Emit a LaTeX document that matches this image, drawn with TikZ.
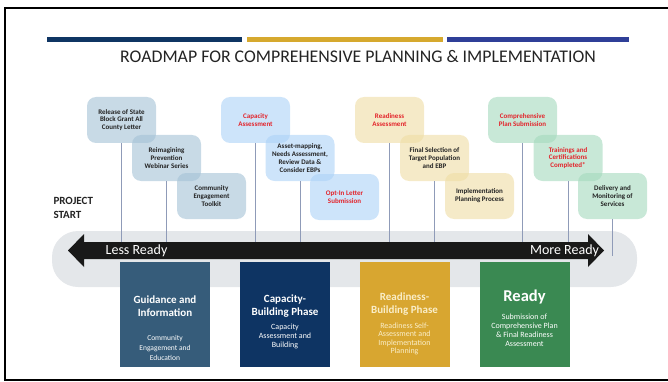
\documentclass[tikz,border=0pt]{standalone}
\usepackage{fontspec}
\setmainfont{Carlito}
\definecolor{navy}{HTML}{0F3563}
\definecolor{goldbar}{HTML}{D6A92E}
\definecolor{bluebar}{HTML}{2F3F98}
\definecolor{gOne}{RGB}{163,193,213}
\definecolor{gTwo}{RGB}{172,210,247}
\definecolor{gThree}{RGB}{238,220,163}
\definecolor{gFour}{RGB}{163,217,188}
\definecolor{redtxt}{HTML}{E3242B}
\definecolor{darktxt}{HTML}{232323}
\definecolor{bandgray}{HTML}{E4E7EA}
\definecolor{stemcol}{HTML}{8F9BB8}
\definecolor{pOne}{HTML}{365C7A}
\definecolor{pTwo}{HTML}{0E3463}
\definecolor{pThree}{HTML}{D8A630}
\definecolor{pFour}{HTML}{3A8952}
\definecolor{cream}{HTML}{FAEEC8}
\begin{document}
\begin{tikzpicture}[x=1pt,y=-1pt,
  evt/.style={rounded corners=9pt, minimum width=69pt, minimum height=46pt,
    align=center, inner sep=1pt, fill opacity=0.6, text opacity=1,
    font=\fontsize{7}{7.8}\selectfont\bfseries, text=darktxt},
  evtred/.style={evt, text=redtxt},
  stem/.style={draw=stemcol, line width=0.8pt},
  phase/.style={minimum width=90pt, minimum height=105pt, inner sep=0pt},
  ptitle/.style={align=center, font=\fontsize{11}{12.5}\selectfont\bfseries, text=white},
  psub/.style={align=center, font=\fontsize{8}{9}\selectfont, text=white}
]
\useasboundingbox (0,0) rectangle (668,382);
% frame
\draw[line width=2pt] (668,8) -- (5,8) -- (5,380) -- (668,380);
% top bars
\fill[navy] (47,37) rectangle (242,42);
\fill[goldbar] (247,37) rectangle (443,42);
\fill[bluebar] (447,37) rectangle (629,42);
\node[font=\fontsize{17.8}{20}\selectfont, text=darktxt] (title) at (358,56) {ROADMAP FOR COMPREHENSIVE PLANNING \& IMPLEMENTATION};
% project start
\node[anchor=west, align=left, font=\fontsize{11}{14}\selectfont\bfseries, text=darktxt] (ps) at (50,208) {PROJECT\\START};
% band
\fill[bandgray, rounded corners=26pt] (52,231) rectangle (637,287);
\coordinate (arrtop) at (0,243);
\coordinate (arrmid) at (0,256);
% event boxes
\node[evt, fill=gOne] (b11) at (121.5,120) {Release of State\\Block Grant All\\County Letter};
\node[evt, fill=gOne] (b12) at (166.5,158) {Reimagining\\Prevention\\Webinar Series};
\node[evt, fill=gOne] (b13) at (211.5,196) {Community\\Engagement\\Toolkit};
\node[evtred, fill=gTwo] (b21) at (255.5,120) {Capacity\\Assessment};
\node[evt, fill=gTwo] (b22) at (300,158) {Asset-mapping,\\Needs Assessment,\\Review Data \&\\Consider EBPs};
\node[evtred, fill=gTwo] (b23) at (344.5,197) {Opt-In Letter\\Submission};
\node[evtred, fill=gThree] (b31) at (389.5,120) {Readiness\\Assessment};
\node[evt, fill=gThree] (b32) at (434.5,158) {Final Selection of\\Target Population\\and EBP};
\node[evt, fill=gThree] (b33) at (479.5,196) {Implementation\\Planning Process};
\node[evtred, fill=gFour] (b41) at (522.5,120) {Comprehensive\\Plan Submission};
\node[evtred, fill=gFour] (b42) at (568,158) {Trainings and\\Certifications\\Completed*};
\node[evt, fill=gFour] (b43) at (612.5,196) {Delivery and\\Monitoring of\\Services};
% stems
\foreach \b in {b11,b12,b21,b22,b31,b32,b41,b42}
  \draw[stem] (\b.south) -- (\b.south |- arrtop);
\draw[stem] (b43.south) -- (b43.south |- arrmid);
% arrow
\fill[black!90] (68,250.5) -- (84,234) -- (84,242) -- (588,242) -- (588,234) -- (604,250.5) -- (588,267) -- (588,259) -- (84,259) -- (84,267) -- cycle;
\node[font=\fontsize{14}{16}\selectfont, text=white] (less) at (136.5,251) {Less Ready};
\node[font=\fontsize{14}{16}\selectfont, text=white] (more) at (564.5,251) {More Ready};
% phase boxes
\node[phase, fill=pOne] (p1) at (165,314.5) {};
\node[phase, fill=pTwo] (p2) at (285,314.5) {};
\node[phase, fill=pThree] (p3) at (404.5,314.5) {};
\node[phase, fill=pFour] (p4) at (524.5,314.5) {};
\node[ptitle] (p1t) at (165,306) {Guidance and\\Information};
\node[psub, font=\fontsize{7.5}{10}\selectfont] (p1s) at (165,348) {Community\\Engagement and\\Education};
\node[ptitle] (p2t) at (285,306) {Capacity-\\Building Phase};
\node[psub] (p2s) at (285,336) {Capacity\\Assessment and\\Building};
\node[ptitle, text=cream] (p3t) at (404.5,304) {Readiness-\\Building Phase};
\node[psub, font=\fontsize{8}{8.6}\selectfont, text=cream] (p3s) at (404.5,339) {Readiness Self-\\Assessment and\\Implementation\\Planning};
\node[ptitle, font=\fontsize{16.5}{18}\selectfont\bfseries] (p4t) at (524.5,297.5) {Ready};
\node[psub] (p4s) at (524.5,330.5) {Submission of\\Comprehensive Plan\\\& Final Readiness\\Assessment};
\end{tikzpicture}
\end{document}
